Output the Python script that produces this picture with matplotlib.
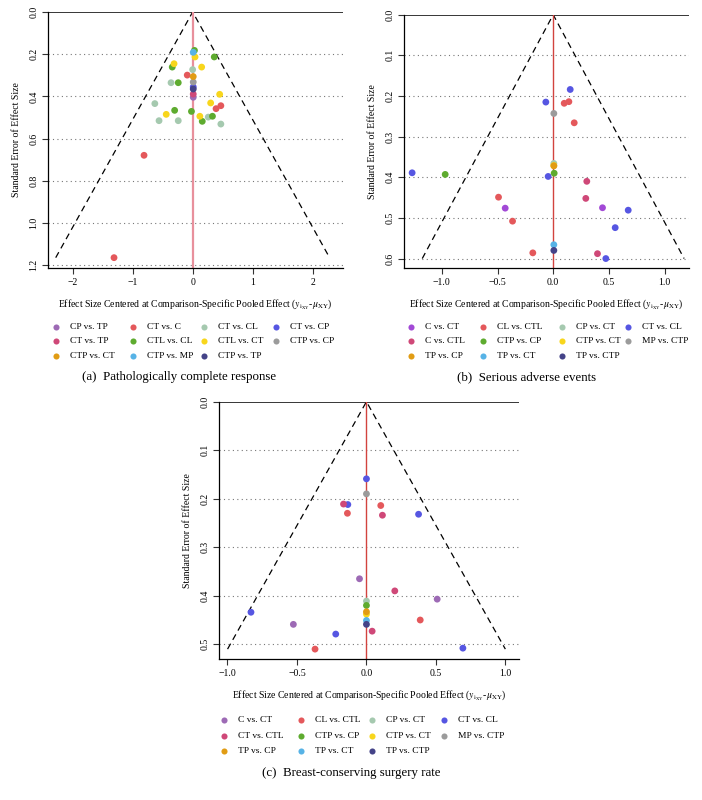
import matplotlib
matplotlib.use('Agg')
import matplotlib.pyplot as plt
from matplotlib.lines import Line2D

plt.rcParams['font.family'] = ['Liberation Serif', 'DejaVu Serif']
plt.rcParams['mathtext.fontset'] = 'stix'

W, H = 702, 800

# colours
purple = '#9d6ab5'
violet = '#a249d6'
coral = '#e4585b'
pink = '#cf4878'
sage = '#a5c9af'
blue = '#5656e2'
green = '#5eab2f'
yellow = '#f8d61c'
grey = '#9b9b9b'
orange = '#e19c14'
sky = '#57b3e6'
navy = '#444388'

# ---- (a) Pathologically complete response ----
a_labels = ['CP vs. TP', 'CT vs. C', 'CT vs. CL', 'CT vs. CP', 'CT vs. TP', 'CTL vs. CL',
            'CTL vs. CT', 'CTP vs. CP', 'CTP vs. CT', 'CTP vs. MP', 'CTP vs. TP']
a_colors = [purple, coral, sage, blue, pink, green, yellow, grey, orange, sky, navy]
a_x = [[0.01], [-0.09, 0.47, 0.39, -0.81, -1.31], [0.0, -0.36, -0.63, 0.26, -0.56, -0.24, 0.47],
       [0.01], [0.01], [0.03, 0.36, -0.34, -0.24, -0.30, -0.02, 0.33, 0.16],
       [0.04, -0.31, 0.15, 0.45, 0.30, -0.44, 0.12], [0.01], [0.01], [0.01], [0.01]]
a_se = [[0.404], [0.299, 0.444, 0.458, 0.679, 1.164], [0.273, 0.335, 0.434, 0.498, 0.515, 0.515, 0.531],
        [0.355], [0.389], [0.182, 0.213, 0.261, 0.335, 0.466, 0.471, 0.494, 0.518],
        [0.213, 0.245, 0.261, 0.390, 0.431, 0.485, 0.494], [0.332], [0.306], [0.191], [0.365]]

# ---- (b) Serious adverse events ----
b_labels = ['C vs. CT', 'CL vs. CTL', 'CP vs. CT', 'CT vs. CL', 'C vs. CTL', 'CTP vs. CP',
            'CTP vs. CT', 'MP vs. CTP', 'TP vs. CP', 'TP vs. CT', 'TP vs. CTP']
b_colors = [violet, coral, sage, blue, pink, green, yellow, grey, orange, sky, navy]
b_x = [[-0.431, 0.443], [0.099, 0.141, 0.189, -0.491, -0.365, -0.183], [0.006],
       [0.153, -0.066, -1.267, -0.045, 0.674, 0.557, 0.473], [0.302, 0.293, 0.398],
       [-0.97, 0.009], [0.006], [0.006], [0.006], [0.006], [0.006]]
b_se = [[0.476, 0.475], [0.218, 0.214, 0.266, 0.449, 0.508, 0.586], [0.366],
        [0.184, 0.215, 0.389, 0.398, 0.481, 0.524, 0.600], [0.410, 0.452, 0.588],
        [0.393, 0.390], [0.371], [0.243], [0.372], [0.566], [0.580]]

# ---- (c) Breast-conserving surgery rate ----
c_labels = ['C vs. CT', 'CL vs. CTL', 'CP vs. CT', 'CT vs. CL', 'CT vs. CTL', 'CTP vs. CP',
            'CTP vs. CT', 'MP vs. CTP', 'TP vs. CP', 'TP vs. CT', 'TP vs. CTP']
c_colors = [purple, coral, sage, blue, pink, green, yellow, grey, orange, sky, navy]
c_x = [[-0.05, 0.509, -0.526], [-0.137, 0.103, 0.387, -0.37], [0.0],
       [0.0, -0.134, 0.375, -0.831, -0.221, 0.694], [-0.165, 0.115, 0.204, 0.041],
       [0.0], [0.0], [0.0], [0.0], [0.0], [0.0]]
c_se = [[0.365, 0.407, 0.459], [0.230, 0.214, 0.450, 0.510], [0.411],
        [0.159, 0.212, 0.232, 0.434, 0.479, 0.508], [0.211, 0.234, 0.390, 0.473],
        [0.420], [0.438], [0.190], [0.433], [0.451], [0.459]]

a_xticks = [-2, -1, 0, 1, 2]
a_yticks = [0.0, 0.2, 0.4, 0.6, 0.8, 1.0, 1.2]
b_xticks = [-1.0, -0.5, 0.0, 0.5, 1.0]
b_yticks = [0.0, 0.1, 0.2, 0.3, 0.4, 0.5, 0.6]
c_xticks = [-1.0, -0.5, 0.0, 0.5, 1.0]
c_yticks = [0.0, 0.1, 0.2, 0.3, 0.4, 0.5]

xlab = r'Effect Size Centered at Comparison-Specific Pooled Effect ($y_{\mathrm{i_{XY}}}$-$\mu_{\mathrm{XY}}$)'

fig = plt.figure(figsize=(W / 100, H / 100), dpi=100)


def px_axes(l, r, t, b):
    return fig.add_axes([l / W, 1 - b / H, (r - l) / W, (b - t) / H])


def funnel(ax, labels, colors, xs, ses, xlim, ylim, xticks, yticks, xfmt, vcol, vlw):
    ax.set_xlim(*xlim)
    ax.set_ylim(ylim, 0)
    for yt in yticks[1:]:
        ax.axhline(yt, color='#777777', lw=0.8, ls=(0, (1, 3)), zorder=1)
    semax = max(max(s) for s in ses)
    ax.plot([-1.96 * semax, 0, 1.96 * semax], [semax, 0, semax], color='k', lw=0.9,
            ls=(0, (5, 3.5)), zorder=2)
    ax.axhline(0, color='k', lw=1.1, zorder=2)
    ax.axvline(0, color=vcol, lw=vlw, zorder=2)
    for lab, col, x, s in zip(labels, colors, xs, ses):
        ax.scatter(x, s, s=24, color=col, edgecolors='none', zorder=3)
    for sp in ['top', 'right']:
        ax.spines[sp].set_visible(False)
    ax.spines['left'].set_linewidth(0.9)
    ax.spines['bottom'].set_linewidth(0.9)
    ax.set_xticks(xticks)
    ax.set_xticklabels([xfmt.format(v).replace('-', '\u2212') for v in xticks], fontsize=7)
    ax.set_yticks(yticks)
    ax.set_yticklabels(['{:.1f}'.format(v) for v in yticks], fontsize=7, rotation=90, va='center')
    ax.tick_params(length=4, width=0.8, pad=3, color='#333333')
    ax.set_ylabel('Standard Error of Effect Size', fontsize=7, labelpad=6)
    ax.set_xlabel(xlab, fontsize=7, labelpad=8)


def legend(labels, colors, mx, y0, dy, gap=14):
    for i, (lab, col) in enumerate(zip(labels, colors)):
        r, c = divmod(i, 4)
        y = y0 + r * dy
        fig.add_artist(Line2D([mx[c] / W], [1 - y / H], marker='o', ms=4.4, color=col,
                              mec='none', lw=0, transform=fig.transFigure))
        fig.text((mx[c] + gap) / W, 1 - y / H, lab, fontsize=6.8, va='center', ha='left')


ax_a = px_axes(48, 343, 12, 268)
funnel(ax_a, a_labels, a_colors, a_x, a_se, (-2.41, 2.505), 1.213, a_xticks, a_yticks,
       '{:d}', '#e8909c', 1.6)
ax_b = px_axes(404, 689, 14.7, 268.3)
funnel(ax_b, b_labels, b_colors, b_x, b_se, (-1.34, 1.22), 0.624, b_xticks, b_yticks,
       '{:.1f}', '#d2433f', 1.0)
ax_c = px_axes(219.3, 519.3, 401.7, 659.3)
funnel(ax_c, c_labels, c_colors, c_x, c_se, (-1.059, 1.10), 0.531, c_xticks, c_yticks,
       '{:.1f}', '#d2433f', 1.0)

legend(a_labels, a_colors, [56, 132.7, 204.3, 276], 327, 14.3)
legend(b_labels, b_colors, [411, 483.3, 562, 627.7], 327, 14.3)
legend(c_labels, c_colors, [224, 300.7, 371.7, 444], 720, 15.5)

fig.text(179 / W, 1 - 377 / H, '(a)  Pathologically complete response', fontsize=9.3,
         ha='center', va='center')
fig.text(526.5 / W, 1 - 377 / H, '(b)  Serious adverse events', fontsize=9.3,
         ha='center', va='center')
fig.text(351.3 / W, 1 - 772.7 / H, '(c)  Breast-conserving surgery rate', fontsize=9.3,
         ha='center', va='center')

fig.savefig('out.png', dpi=100)
